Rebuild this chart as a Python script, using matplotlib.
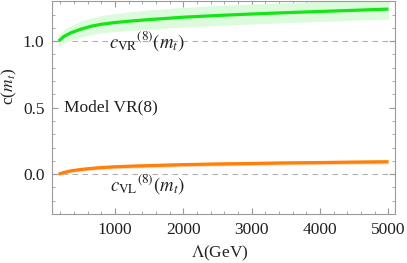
import matplotlib
matplotlib.use("Agg")
import matplotlib.pyplot as plt
import numpy as np
from matplotlib.ticker import MultipleLocator

plt.rcParams['font.family'] = ['Liberation Serif', 'DejaVu Serif']
plt.rcParams['mathtext.fontset'] = 'stix'

# Lambda in GeV
lam = [173, 250, 350, 500, 650, 800, 1000, 1250, 1500, 2000,
       2500, 3000, 3500, 4000, 4500, 5000]

# c_VR^(8)(m_t): central value and band half-width
c_vr = [1.000, 1.035, 1.062, 1.090, 1.112, 1.127, 1.140, 1.152, 1.162, 1.180,
        1.193, 1.204, 1.214, 1.223, 1.232, 1.241]
d_vr = [0.045, 0.050, 0.055, 0.060, 0.063, 0.065, 0.068, 0.070, 0.072, 0.074,
        0.075, 0.075, 0.075, 0.075, 0.075, 0.075]

# c_VL^(8)(m_t)
c_vl = [0.000, 0.012, 0.024, 0.035, 0.043, 0.049, 0.055, 0.060, 0.064, 0.071,
        0.076, 0.080, 0.084, 0.087, 0.090, 0.093]
d_vl = [0.008, 0.010, 0.012, 0.013, 0.014, 0.014, 0.015, 0.015, 0.015, 0.015,
        0.015, 0.015, 0.015, 0.015, 0.015, 0.015]

lam = np.array(lam)
c_vr, d_vr = np.array(c_vr), np.array(d_vr)
c_vl, d_vl = np.array(c_vl), np.array(d_vl)

fs = 12.5
txt = '#222222'

fig = plt.figure(figsize=(4.07, 2.63), dpi=100)
ax = fig.add_axes([0.1278, 0.1863, 0.8427, 0.8090])

# reference lines
ax.axhline(1.0, color='#b0b0b0', lw=0.8, ls=(0, (5, 4)), zorder=1)
ax.axhline(0.0, color='#b0b0b0', lw=0.8, ls=(0, (5, 4)), zorder=1)

# bands and curves
ax.fill_between(lam, c_vr - d_vr, c_vr + d_vr, color='#dcfadc', lw=0, zorder=2)
ax.plot(lam, c_vr, color='#14e614', lw=2.3, solid_capstyle='butt', zorder=3)
ax.fill_between(lam, c_vl - d_vl, c_vl + d_vl, color='#ffd9b5', lw=0, zorder=2)
ax.plot(lam, c_vl, color='#ff7f0a', lw=2.3, solid_capstyle='butt', zorder=3)

ax.set_xlim(77, 5096)
ax.set_ylim(-0.3, 1.3)

ax.xaxis.set_major_locator(MultipleLocator(1000))
ax.xaxis.set_minor_locator(MultipleLocator(200))
ax.yaxis.set_major_locator(MultipleLocator(0.5))
ax.yaxis.set_minor_locator(MultipleLocator(0.1))
ax.set_xticks([1000, 2000, 3000, 4000, 5000])
ax.set_yticks([0.0, 0.5, 1.0])
ax.set_yticklabels(['0.0', '0.5', '1.0'])

frame = '#9a9a9a'
for s in ax.spines.values():
    s.set_color(frame)
    s.set_linewidth(0.8)
ax.tick_params(which='both', direction='in', top=True, right=True,
               color=frame, labelsize=fs, labelcolor=txt)
ax.tick_params(which='major', length=4, width=0.8, pad=5.5)
ax.tick_params(which='minor', length=2.3, width=0.6)

ax.set_xlabel(r'$\Lambda$(GeV)', fontsize=fs, color=txt)
ax.set_ylabel(r'c($m_t$)', fontsize=fs, color=txt)
ax.xaxis.set_label_coords(0.49, -0.142)
ax.yaxis.set_label_coords(-0.095, 0.60)

ax.text(1460, 1.0, r'$c_{\mathrm{VR}}{}^{(8)}(m_t)$', fontsize=13.5,
        ha='center', va='center', color=txt, zorder=4)
ax.text(1480, -0.072, r'$c_{\mathrm{VL}}{}^{(8)}(m_t)$', fontsize=13.5,
        ha='center', va='center', color=txt, zorder=4)
ax.text(250, 0.5, 'Model VR(8)', fontsize=fs, ha='left', va='center',
        color=txt)

fig.savefig('out.png', dpi=100)
